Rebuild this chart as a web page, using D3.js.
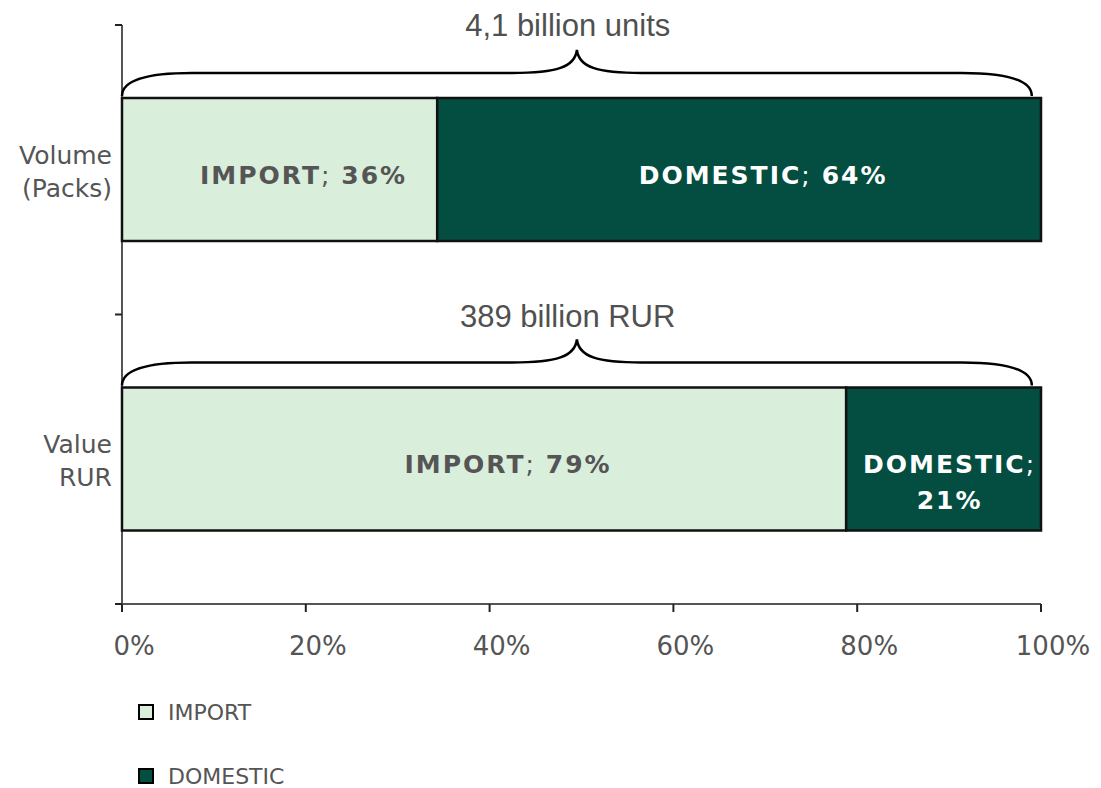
<!doctype html>
<html lang="en">
  <head>
    <meta charset="utf-8">
    <title>Import vs Domestic</title>
    <script src="https://d3js.org/d3.v7.min.js"></script>
    <style>
      body { margin: 0; background: #fff; }
      text { font-family: "DejaVu Sans", sans-serif; }
    </style>
  </head>
  <body>
    <div id="chart"></div>
    <script>
      // data
      const categories = ["Volume (Packs)", "Value RUR"];
      const categoryLines = [["Volume", "(Packs)"], ["Value", "RUR"]];
      const series = ["IMPORT", "DOMESTIC"];
      const importShare = [34.3, 78.8];     // drawn bar widths
      const domesticShare = [65.7, 21.2];
      const importLabel = [36, 79];         // printed labels
      const domesticLabel = [64, 21];
      const totals = ["4,1 billion units", "389 billion RUR"];
      const xTicks = [0, 20, 40, 60, 80, 100];

      const colors = { IMPORT: "#daeedc", DOMESTIC: "#034e40" };
      const labelColors = { IMPORT: "#555555", DOMESTIC: "#ffffff" };

      const W = 1101, H = 788;
      const svg = d3.select("#chart").append("svg")
        .attr("width", W).attr("height", H);

      const x = d3.scaleLinear().domain([0, 100]).range([122, 1041]);
      const y = d3.scaleBand().domain(categories).range([25, 604]).padding(0);
      const barTop = 73, barH = 143;

      // axes
      svg.append("line")
        .attr("x1", x(0)).attr("x2", x(0)).attr("y1", 25).attr("y2", 604)
        .attr("stroke", "#555").attr("stroke-width", 2);
      svg.append("line")
        .attr("x1", x(0)).attr("x2", x(100)).attr("y1", 604).attr("y2", 604)
        .attr("stroke", "#555").attr("stroke-width", 2);

      const yEdges = categories.map(c => y(c)).concat([604]);
      svg.append("g").selectAll("line").data(yEdges).join("line")
        .attr("x1", 115).attr("x2", x(0)).attr("y1", d => d).attr("y2", d => d)
        .attr("stroke", "#222").attr("stroke-width", 2);

      svg.append("g").selectAll("line").data(xTicks).join("line")
        .attr("x1", d => x(d)).attr("x2", d => x(d)).attr("y1", 604).attr("y2", 612)
        .attr("stroke", "#222").attr("stroke-width", 2);

      svg.append("g").selectAll("text").data(xTicks).join("text")
        .attr("x", d => x(d) + 12).attr("y", 655)
        .attr("text-anchor", "middle")
        .style("font-size", "26px").style("fill", "#555")
        .text(d => d + "%");

      // category labels
      categories.forEach((c, i) => {
        const cy = y(c) + y.bandwidth() / 2;
        const t = svg.append("text")
          .attr("text-anchor", "end")
          .style("font-size", "25px").style("fill", "#555");
        categoryLines[i].forEach((ln, j) => {
          t.append("tspan").attr("x", 112).attr("y", cy - 6 + j * 33).text(ln);
        });
      });

      // stacked bars
      const rows = categories.map((c, i) => ({
        cat: c,
        segs: [
          { name: "IMPORT", x0: 0, x1: importShare[i], pct: importLabel[i] },
          { name: "DOMESTIC", x0: importShare[i], x1: importShare[i] + domesticShare[i], pct: domesticLabel[i] }
        ]
      }));

      rows.forEach(r => {
        const top = y(r.cat) + barTop;
        const g = svg.append("g");
        g.selectAll("rect").data(r.segs).join("rect")
          .attr("x", d => x(d.x0)).attr("y", top)
          .attr("width", d => x(d.x1) - x(d.x0)).attr("height", barH)
          .attr("fill", d => colors[d.name])
          .attr("stroke", "#111").attr("stroke-width", 2.5);

        r.segs.forEach(d => {
          const segW = x(d.x1) - x(d.x0);
          const cx = (x(d.x0) + x(d.x1)) / 2;
          const cy = top + barH / 2;
          const t = g.append("text")
            .attr("text-anchor", "middle")
            .style("font-size", "25px").style("font-weight", "bold")
            .style("letter-spacing", "2px")
            .style("fill", labelColors[d.name]);
          if (segW > 300) {
            t.attr("x", cx + 24).attr("y", cy + 14);
            t.append("tspan").text(d.name);
            t.append("tspan").style("font-weight", "normal").text("; ");
            t.append("tspan").text(d.pct + "%");
          } else {
            const l1 = t.append("tspan").attr("x", cx + 6).attr("y", cy + 14);
            l1.append("tspan").text(d.name);
            l1.append("tspan").style("font-weight", "normal").text(";");
            t.append("tspan").attr("x", cx + 6).attr("y", cy + 50).text(d.pct + "%");
          }
        });

        // brace over the bar
        const x0 = x(0), x1 = x(99), xm = x(49.5);
        const yEnd = top - 2, yH = top - 25, yPk = top - 48;
        const p = d3.path();
        p.moveTo(x0, yEnd);
        p.bezierCurveTo(x0, yH + 6, x0 + 30, yH, x0 + 70, yH);
        p.lineTo(xm - 65, yH);
        p.bezierCurveTo(xm - 20, yH, xm - 2, yH - 6, xm, yPk);
        p.bezierCurveTo(xm + 2, yH - 6, xm + 20, yH, xm + 65, yH);
        p.lineTo(x1 - 70, yH);
        p.bezierCurveTo(x1 - 30, yH, x1, yH + 6, x1, yEnd);
        svg.append("path").attr("d", p.toString())
          .attr("fill", "none").attr("stroke", "#000").attr("stroke-width", 2.5);
      });

      // totals above braces
      categories.forEach((c, i) => {
        svg.append("text")
          .attr("x", x(48.5)).attr("y", y(c) + 11 + i)
          .attr("text-anchor", "middle")
          .style("font-family", "'Liberation Sans', Arial, sans-serif")
          .style("font-size", "31px").style("fill", "#505050")
          .text(totals[i]);
      });

      // legend
      const legend = svg.append("g").selectAll("g").data(series).join("g")
        .attr("transform", (d, i) => `translate(139, ${705 + i * 64})`);
      legend.append("rect")
        .attr("width", 14).attr("height", 14)
        .attr("fill", d => colors[d]).attr("stroke", "#000").attr("stroke-width", 2);
      legend.append("text")
        .attr("x", 29).attr("y", 15)
        .style("font-size", "22px").style("fill", "#555")
        .text(d => d);
    </script>
  </body>
</html>
